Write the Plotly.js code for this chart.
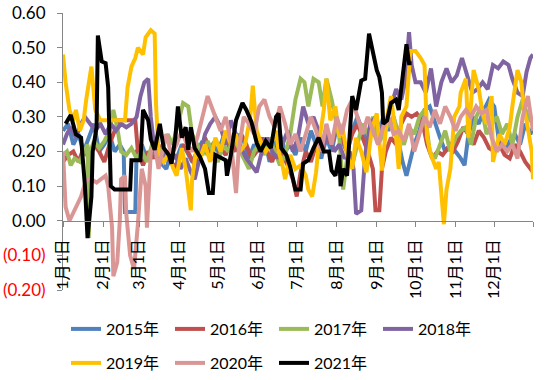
<!DOCTYPE html>
<html>
<head>
<meta charset="utf-8">
<script src="https://cdn.plot.ly/plotly-3.0.1.min.js"></script>
<style>html,body{margin:0;padding:0;background:#fff;}#chart{width:550px;height:380px;}</style>
</head>
<body>
<div id="chart"></div>
<script>
// Day offsets from Jan 1 and values for each year
const days2015 = [0,4,8,12,16,20,24,28,32,36, 40,44,47,48,56,57,61,65,70,75, 80,84,88,92,96,100,104,108,112,116, 120,124,128,132,136,140,144,148,152,156, 160,164,168,172,176,180,184,188,192,196, 200,204,208,212,216,220,224,228,232,236, 240,244,248,252,256,260,263,266,268,272, 276,280,284,288,292,296,300,304,308,311, 314,318,322,326,330,334,338,342,346,350, 354,358,362,364];
const vals2015 = [0.26,0.28,0.22,0.25,0.20,0.24,0.28,0.20,0.22,0.25, 0.20,0.22,0.20,0.025,0.025,0.20,0.22,0.18,0.20,0.17, 0.15,0.20,0.18,0.22,0.20,0.17,0.20,0.23,0.19,0.22, 0.20,0.24,0.22,0.20,0.25,0.23,0.18,0.22,0.20,0.24, 0.17,0.22,0.25,0.20,0.22,0.19,0.24,0.20,0.26,0.22, 0.18,0.24,0.20,0.27,0.23,0.20,0.26,0.30,0.26,0.22, 0.28,0.24,0.30,0.26,0.30,0.22,0.17,0.13,0.16,0.22, 0.26,0.32,0.33,0.28,0.24,0.20,0.22,0.20,0.18,0.16, 0.25,0.30,0.28,0.32,0.35,0.33,0.22,0.20,0.23,0.25, 0.22,0.28,0.25,0.27];

const days2016 = [0,4,8,12,16,20,24,28,32,36, 40,43,56,58,62,66,70,74,78,82, 86,90,94,98,102,106,110,114,118,122, 126,130,134,138,142,146,150,154,158,162, 166,170,174,178,181,184,188,192,196,200, 204,208,212,216,220,224,228,232,236,240, 242,245,247,250,254,258,262,266,270,274, 278,282,286,290,294,298,302,306,310,314, 318,322,326,330,334,338,342,346,350,354, 358,362,364];
const vals2016 = [0.17,0.19,0.20,0.17,0.21,0.18,0.22,0.20,0.17,0.22, 0.26,0.29,0.29,0.20,0.16,0.20,0.18,0.22,0.17,0.20, 0.15,0.18,0.22,0.19,0.16,0.20,0.24,0.20,0.17,0.21, 0.19,0.23,0.20,0.25,0.22,0.18,0.20,0.24,0.20,0.17, 0.22,0.19,0.16,0.12,0.07,0.14,0.20,0.17,0.22,0.20, 0.25,0.22,0.27,0.24,0.20,0.25,0.28,0.24,0.20,0.15, 0.03,0.03,0.15,0.20,0.24,0.22,0.28,0.31,0.30,0.31, 0.29,0.22,0.18,0.20,0.19,0.21,0.20,0.23,0.27,0.25, 0.22,0.26,0.24,0.21,0.20,0.22,0.19,0.18,0.22,0.20, 0.17,0.15,0.14];

const days2017 = [0,3,6,9,13,17,19,20,21,24, 28,32,36,39,42,45,49,53,57,61, 65,69,73,77,81,85,89,93,97,100, 104,108,112,116,120,124,128,132,136,140, 144,148,152,156,160,164,168,172,176,180, 184,187,190,194,198,201,204,208,211,214, 217,220,224,228,232,236,240,244,248,252, 256,260,264,268,272,276,280,284,288,292, 296,300,304,308,312,316,320,324,328,332, 336,340,344,348,352,356,360,364];
const vals2017 = [0.19,0.20,0.16,0.18,0.17,0.20,0.22,-0.05,0.20,0.23, 0.21,0.23,0.26,0.32,0.27,0.20,0.19,0.21,0.18,0.20, 0.17,0.22,0.18,0.21,0.25,0.22,0.28,0.34,0.33,0.25, 0.22,0.19,0.23,0.20,0.17,0.22,0.20,0.24,0.21,0.18, 0.15,0.20,0.22,0.19,0.24,0.20,0.16,0.19,0.25,0.35, 0.41,0.40,0.33,0.41,0.40,0.33,0.41,0.35,0.30,0.24, 0.09,0.18,0.16,0.22,0.28,0.25,0.30,0.22,0.25,0.28, 0.30,0.25,0.22,0.27,0.25,0.30,0.32,0.20,0.18,0.22, 0.26,0.20,0.24,0.26,0.27,0.22,0.30,0.33,0.25,0.28, 0.30,0.25,0.28,0.22,0.30,0.35,0.30,0.28];

const days2018 = [0,3,6,10,14,17,21,25,29,33, 37,41,45,49,53,57,60,63,66,68, 71,75,79,83,87,91,95,99,102,106, 110,114,118,122,126,130,134,138,142,146, 150,154,158,162,166,170,174,178,182,186, 190,194,198,202,206,210,214,218,222,225, 227,231,234,238,242,246,250,254,258,262, 265,268,270,273,277,281,285,289,293,297, 301,305,309,313,317,321,325,329,333,337, 341,345,348,352,356,359,362,364];
const vals2018 = [0.22,0.25,0.27,0.24,0.28,0.30,0.28,0.26,0.28,0.25, 0.28,0.26,0.28,0.27,0.28,0.30,0.36,0.40,0.41,0.30, 0.20,0.16,0.20,0.17,0.19,0.15,0.18,0.14,0.12,0.18, 0.25,0.28,0.30,0.27,0.22,0.29,0.25,0.21,0.18,0.16, 0.14,0.20,0.24,0.20,0.18,0.22,0.26,0.20,0.24,0.33, 0.28,0.30,0.26,0.22,0.25,0.20,0.22,0.18,0.20,0.15, 0.02,0.03,0.19,0.28,0.30,0.26,0.28,0.33,0.38,0.35, 0.40,0.545,0.45,0.40,0.40,0.37,0.44,0.33,0.40,0.44, 0.40,0.42,0.47,0.42,0.37,0.38,0.40,0.38,0.45,0.44, 0.46,0.45,0.41,0.37,0.36,0.43,0.47,0.48];

const days2019 = [0,2,5,8,10,13,16,18,22,25, 29,33,48,50,53,56,58,62,64,68, 71,72,74,78,82,85,88,92,95,99, 100,103,106,110,114,118,122,126,130,134, 137,141,145,147,150,153,157,161,165,167, 170,172,176,180,184,188,190,193,196,198, 202,204,207,211,214,216,220,224,227,231, 235,239,243,247,251,254,258,260,262,266, 269,273,277,280,282,285,289,291,295,297, 300,303,307,308,312,314,318,322,325,328, 332,333,335,338,342,346,348,352,355,357, 359,363,364];
const vals2019 = [0.48,0.40,0.32,0.29,0.32,0.26,0.29,0.35,0.445,0.32, 0.29,0.29,0.29,0.385,0.445,0.47,0.50,0.48,0.53,0.55, 0.54,0.34,0.195,0.17,0.195,0.155,0.13,0.21,0.15,0.03, 0.12,0.20,0.18,0.22,0.17,0.24,0.20,0.26,0.22,0.25, 0.20,0.22,0.30,0.39,0.26,0.23,0.20,0.22,0.26,0.20, 0.16,0.12,0.19,0.15,0.16,0.13,0.09,0.07,0.14,0.22, 0.32,0.41,0.29,0.33,0.24,0.28,0.19,0.15,0.24,0.20, 0.14,0.26,0.31,0.145,0.30,0.36,0.24,0.15,0.30,0.33, 0.49,0.49,0.47,0.45,0.24,0.19,0.15,0.17,-0.01,0.09, 0.15,0.30,0.33,0.37,0.41,0.24,0.435,0.38,0.31,0.28, 0.36,0.17,0.20,0.25,0.22,0.27,0.33,0.435,0.40,0.32, 0.29,0.20,0.12];

const days2020 = [0,2,5,9,14,18,22,26,30,33, 35,38,39,42,44,45,48,49,52,55, 58,61,64,65,68,71,74,77,80,84, 88,92,96,100,104,108,112,115,118,122, 126,130,134,136,140,144,148,152,156,160, 164,168,172,176,180,184,188,192,196,200, 204,208,212,216,220,224,228,232,236,240, 244,248,252,256,260,264,268,272,276,280, 284,288,292,296,300,304,308,312,316,320, 324,328,332,336,340,344,348,352,356,360, 364];
const vals2020 = [0.20,0.04,0.00,0.03,0.07,0.12,0.12,0.11,0.12,0.13, 0.10,-0.02,-0.16,-0.12,0.00,0.12,0.13,0.02,-0.10,-0.14, -0.01,0.15,0.10,-0.02,0.20,0.22,0.15,0.20,0.25,0.19, 0.22,0.26,0.22,0.20,0.24,0.30,0.36,0.33,0.30,0.26, 0.30,0.23,0.08,0.20,0.30,0.28,0.25,0.33,0.35,0.30, 0.27,0.33,0.28,0.22,0.25,0.20,0.25,0.30,0.26,0.20, 0.28,0.22,0.30,0.25,0.32,0.35,0.30,0.25,0.30,0.26, 0.22,0.27,0.30,0.25,0.26,0.23,0.28,0.20,0.25,0.30, 0.27,0.32,0.28,0.33,0.30,0.26,0.30,0.32,0.30,0.33, 0.31,0.32,0.24,0.20,0.22,0.20,0.22,0.18,0.30,0.36, 0.26];

const days2021 = [2,6,10,14,17,19,22,23,26,27, 30,33,35,37,40,52,53,60,62,66, 68,71,75,78,82,84,87,89,92,95, 97,99,102,106,110,113,116,118,126,127, 130,134,139,142,146,150,153,157,161,165, 167,169,173,176,180,184,186,190,194,198, 202,206,208,211,214,215,217,220,224,227, 231,234,237,239,243,245,247,248,251,254, 258,260,262,266,268,270];
const vals2021 = [0.28,0.305,0.25,0.24,0.10,-0.05,0.07,0.20,0.27,0.535, 0.46,0.455,0.385,0.10,0.09,0.09,0.175,0.175,0.32,0.29, 0.235,0.205,0.28,0.21,0.19,0.165,0.24,0.33,0.24,0.27, 0.205,0.27,0.21,0.185,0.15,0.08,0.08,0.19,0.175,0.13, 0.19,0.29,0.34,0.32,0.285,0.225,0.20,0.23,0.21,0.30, 0.31,0.21,0.19,0.155,0.09,0.09,0.165,0.175,0.21,0.24, 0.20,0.20,0.145,0.13,0.19,0.10,0.15,0.13,0.36,0.32, 0.405,0.41,0.54,0.50,0.435,0.415,0.37,0.28,0.29,0.34, 0.35,0.32,0.385,0.51,0.455,0.455];

const seriesNames = ['2015年','2016年','2017年','2018年','2019年','2020年','2021年'];
const seriesDays = [days2015, days2016, days2017, days2018, days2019, days2020, days2021];
const seriesVals = [vals2015, vals2016, vals2017, vals2018, vals2019, vals2020, vals2021];
const seriesColors = ['#4F81BD','#C0504D','#9BBB59','#8064A2','#FFC000','#D99694','#000000'];

const monthTickDates = ['2021-01-01','2021-02-01','2021-03-01','2021-04-01','2021-05-01','2021-06-01','2021-07-01','2021-08-01','2021-09-01','2021-10-01','2021-11-01','2021-12-01','2021-12-31'];
const monthTickLabels = ['1月1日','2月1日','3月1日','4月1日','5月1日','6月1日','7月1日','8月1日','9月1日','10月1日','11月1日','12月1日',''];
const yTickVals = [-0.2,-0.1,0,0.1,0.2,0.3,0.4,0.5,0.6];
const yTickLabels = ['<span style="color:#ff0000">(0.20)</span>','<span style="color:#ff0000">(0.10)</span>','0.00','0.10','0.20','0.30','0.40','0.50','0.60'];

function dayToDate(d) {
  return new Date(Date.UTC(2021, 0, 1) + d * 86400000).toISOString().slice(0, 10);
}

const traces = seriesNames.map((name, i) => ({
  type: 'scatter', mode: 'lines', name: name,
  x: seriesDays[i].map(dayToDate), y: seriesVals[i],
  line: {color: seriesColors[i], width: 4},
  legend: i < 4 ? 'legend' : 'legend2'
}));

const fontFam = 'Lato, "Noto Sans CJK SC", sans-serif';
const layout = {
  width: 550, height: 380,
  margin: {l: 63, r: 17, t: 13, b: 90},
  paper_bgcolor: '#fff', plot_bgcolor: '#fff',
  font: {family: fontFam, size: 16, color: '#000'},
  showlegend: true,
  xaxis: {
    type: 'date', range: ['2021-01-01', '2021-12-31'],
    anchor: 'free', position: 0.25,
    showline: true, linecolor: '#868686', linewidth: 1,
    ticks: 'outside', ticklen: 5, tickcolor: '#868686',
    tickmode: 'array', tickvals: monthTickDates, ticktext: monthTickLabels,
    tickangle: -90, ticklabelstandoff: 6,
    tickfont: {family: fontFam, size: 16, color: '#000'},
    showgrid: false, zeroline: false
  },
  yaxis: {
    range: [-0.2, 0.6],
    showline: true, linecolor: '#868686', linewidth: 1,
    ticks: 'outside', ticklen: 5, tickcolor: '#868686',
    tickmode: 'array', tickvals: yTickVals, ticktext: yTickLabels,
    ticklabelstandoff: 8,
    tickfont: {family: fontFam, size: 17, color: '#000'},
    showgrid: false, zeroline: false
  },
  legend: {
    orientation: 'h', xref: 'container', yref: 'container',
    x: 66/550, xanchor: 'left', y: 1 - 329/380, yanchor: 'middle',
    entrywidthmode: 'pixels', entrywidth: 59,
    font: {family: fontFam, size: 16, color: '#000'},
    bgcolor: 'rgba(0,0,0,0)', itemwidth: 30
  },
  legend2: {
    orientation: 'h', xref: 'container', yref: 'container',
    x: 66/550, xanchor: 'left', y: 1 - 363/380, yanchor: 'middle',
    entrywidthmode: 'pixels', entrywidth: 59,
    font: {family: fontFam, size: 16, color: '#000'},
    bgcolor: 'rgba(0,0,0,0)', itemwidth: 30
  }
};

Plotly.newPlot('chart', traces, layout, {displayModeBar: false, staticPlot: true});
</script>
</body>
</html>
